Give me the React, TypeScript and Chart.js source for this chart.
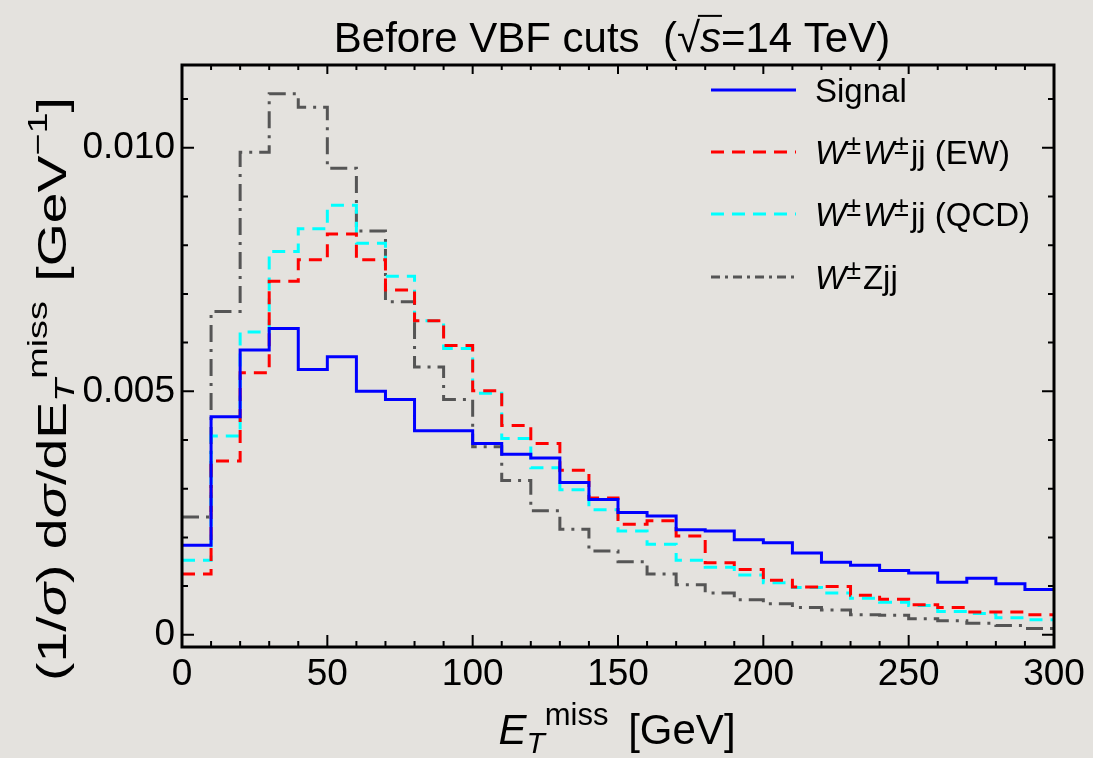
import React, { useEffect, useRef } from "react";
import { Chart, registerables } from "chart.js";

Chart.register(...registerables);

// ---- data ----
const BIN_LEFT = [0, 10, 20, 30, 40, 50, 60, 70, 80, 90, 100, 110, 120, 130, 140, 150, 160, 170, 180, 190, 200, 210, 220, 230, 240, 250, 260, 270, 280, 290];
const BIN_END = 300;

const SIGNAL = [0.00184, 0.00448, 0.00585, 0.00629, 0.00545, 0.00571, 0.005, 0.00483, 0.00419, 0.00419, 0.00393, 0.00371, 0.00363, 0.00313, 0.00278, 0.00251, 0.00244, 0.00216, 0.00213, 0.00195, 0.00189, 0.00168, 0.00149, 0.00143, 0.00132, 0.00127, 0.00108, 0.00116, 0.00105, 0.00093];
const WW_EW = [0.00125, 0.00357, 0.00538, 0.00726, 0.0077, 0.00823, 0.0077, 0.00708, 0.00645, 0.00594, 0.00501, 0.0043, 0.00393, 0.00338, 0.00281, 0.00227, 0.00234, 0.00203, 0.00148, 0.00134, 0.00112, 0.00098, 0.00099, 0.00081, 0.00073, 0.00062, 0.00056, 0.00047, 0.00047, 0.00041];
const WW_QCD = [0.00153, 0.00408, 0.00622, 0.00787, 0.00834, 0.00882, 0.00804, 0.00736, 0.00645, 0.00588, 0.00496, 0.00403, 0.00343, 0.00298, 0.00257, 0.00213, 0.00186, 0.00153, 0.00139, 0.00123, 0.00107, 0.00097, 0.00086, 0.00075, 0.00067, 0.0006, 0.00048, 0.00044, 0.00035, 0.00031];
const WZ = [0.00242, 0.00664, 0.00991, 0.01111, 0.01083, 0.00958, 0.00829, 0.00684, 0.0055, 0.00483, 0.00386, 0.00317, 0.00255, 0.00217, 0.00172, 0.0015, 0.00125, 0.00103, 0.00086, 0.00072, 0.00064, 0.00056, 0.00051, 0.00041, 0.0004, 0.00033, 0.00029, 0.00024, 0.00019, 0.00013];

const X_MAJOR = [0, 50, 100, 150, 200, 250, 300];
const X_MINOR_STEP = 10;
const Y_MAJOR = [0, 0.005, 0.01];
const Y_MAJOR_LABELS = ["0", "0.005", "0.010"];
const Y_MINOR_STEP = 0.001;

const FONT = '"Liberation Sans", Arial, Helvetica, sans-serif';

type Seg = { t: string; size: number; italic?: boolean; dy?: number; overline?: boolean; gap?: number };

function segFont(s: Seg) {
  return `${s.italic ? "italic " : ""}${s.size}px ${FONT}`;
}

function drawRich(ctx: CanvasRenderingContext2D, segs: Seg[], x: number, y: number, align: "left" | "center") {
  ctx.save();
  ctx.textBaseline = "alphabetic";
  ctx.textAlign = "left";
  const widths = segs.map((s) => {
    ctx.font = segFont(s);
    return ctx.measureText(s.t).width + (s.gap || 0);
  });
  const total = widths.reduce((a, b) => a + b, 0);
  let cx = align === "center" ? x - total / 2 : x;
  segs.forEach((s, i) => {
    ctx.font = segFont(s);
    ctx.fillStyle = "#000";
    ctx.fillText(s.t, cx, y + (s.dy || 0));
    if (s.overline) {
      ctx.strokeStyle = "#000";
      ctx.lineWidth = 2;
      ctx.beginPath();
      const oy = y + (s.dy || 0) - s.size * 0.86;
      ctx.moveTo(cx - 2, oy);
      ctx.lineTo(cx + widths[i] + 1, oy);
      ctx.stroke();
    }
    cx += widths[i];
  });
  ctx.restore();
}

function histPoints(vals: number[]) {
  const pts = BIN_LEFT.map((x, i) => ({ x, y: vals[i] }));
  pts.push({ x: BIN_END, y: vals[vals.length - 1] });
  return pts;
}

function wLabel(rest: string, double: boolean): Seg[] {
  const segs: Seg[] = [
    { t: "W", size: 33, italic: true },
    { t: "\u00B1", size: 27, dy: -10, gap: 2 },
  ];
  if (double) {
    segs.push({ t: "W", size: 33, italic: true });
    segs.push({ t: "\u00B1", size: 27, dy: -10, gap: 2 });
  }
  segs.push({ t: rest, size: 33 });
  return segs;
}

const decorations = {
  id: "decorations",
  afterDraw(chart: any) {
    const { ctx, chartArea, scales } = chart;
    const { left, right, top, bottom } = chartArea;
    const xs = scales.x;
    const ys = scales.y;
    ctx.save();
    // frame
    ctx.strokeStyle = "#000";
    ctx.lineWidth = 3;
    ctx.strokeRect(left, top, right - left, bottom - top);
    // x ticks
    ctx.lineWidth = 2;
    ctx.beginPath();
    for (let v = 0; v <= 300; v += X_MINOR_STEP) {
      const major = X_MAJOR.includes(v);
      const px = xs.getPixelForValue(v);
      const lb = major ? 12 : 6;
      const lt = major ? 9 : 5;
      ctx.moveTo(px, bottom);
      ctx.lineTo(px, bottom - lb);
      ctx.moveTo(px, top);
      ctx.lineTo(px, top + lt);
    }
    // y ticks
    for (let k = 0; k <= 11; k++) {
      const v = k * Y_MINOR_STEP;
      const major = k % 5 === 0;
      const py = ys.getPixelForValue(v);
      const l = major ? 12 : 6;
      ctx.moveTo(left, py);
      ctx.lineTo(left + l, py);
      ctx.moveTo(right, py);
      ctx.lineTo(right - l, py);
    }
    ctx.stroke();

    // title
    drawRich(
      ctx,
      [
        { t: "Before VBF cuts  (", size: 42 },
        { t: "\u221A", size: 42 },
        { t: "s", size: 42, italic: true, overline: true },
        { t: "=14 TeV)", size: 42 },
      ],
      612,
      52,
      "center"
    );

    // x title
    drawRich(
      ctx,
      [
        { t: "E", size: 42, italic: true },
        { t: "T", size: 30, italic: true, dy: 9 },
        { t: "miss", size: 31, dy: -19, gap: 8 },
        { t: " [GeV]", size: 42 },
      ],
      617,
      744,
      "center"
    );

    // y title (rotated)
    ctx.save();
    ctx.translate(66, 389);
    ctx.rotate(-Math.PI / 2);
    ctx.scale(1.35, 1);
    drawRich(
      ctx,
      [
        { t: "(1/", size: 41 },
        { t: "\u03C3", size: 41, italic: true },
        { t: ") d", size: 41 },
        { t: "\u03C3", size: 41, italic: true },
        { t: "/dE", size: 41 },
        { t: "T", size: 28, italic: true, dy: 8 },
        { t: "miss", size: 28, dy: -19, gap: 3 },
        { t: " [GeV", size: 41 },
        { t: "\u22121", size: 28, dy: -19 },
        { t: "]", size: 41 },
      ],
      0,
      0,
      "center"
    );
    ctx.restore();

    // legend
    const items = [
      { color: "#0000ff", dash: [] as number[], label: [{ t: "Signal", size: 33 }] as Seg[] },
      { color: "#ff0000", dash: [13, 8], label: wLabel("jj (EW)", true) },
      { color: "#00ffff", dash: [13, 8], label: wLabel("jj (QCD)", true) },
      { color: "#555555", dash: [9, 5, 3, 5], label: wLabel("Zjj", false) },
    ];
    const ly = [90, 152, 214, 277];
    items.forEach((it, i) => {
      ctx.save();
      ctx.strokeStyle = it.color;
      ctx.lineWidth = 3;
      ctx.setLineDash(it.dash);
      ctx.beginPath();
      ctx.moveTo(711, ly[i]);
      ctx.lineTo(796, ly[i]);
      ctx.stroke();
      ctx.restore();
      drawRich(ctx, it.label, 815, ly[i] + 12, "left");
    });
    ctx.restore();
  },
};

export default function App() {
  const ref = useRef<HTMLCanvasElement | null>(null);
  useEffect(() => {
    document.body.style.margin = "0";
    document.body.style.background = "#e4e2de";
    if (!ref.current) return;
    const mk = (label: string, vals: number[], color: string, dash: number[]) => ({
      label,
      data: histPoints(vals),
      borderColor: color,
      backgroundColor: color,
      borderWidth: 3,
      borderDash: dash,
      stepped: "before" as const,
      pointRadius: 0,
      fill: false,
      tension: 0,
    });
    const chart = new Chart(ref.current, {
      type: "line",
      data: {
        datasets: [
          mk("Signal", SIGNAL, "#0000ff", []),
          mk("W±W±jj (EW)", WW_EW, "#ff0000", [13, 8]),
          mk("W±W±jj (QCD)", WW_QCD, "#00ffff", [13, 8]),
          mk("W±Zjj", WZ, "#555555", [17, 7, 3, 7]),
        ],
      },
      options: {
        animation: false,
        responsive: true,
        maintainAspectRatio: false,
        layout: { padding: { top: 65, right: 39, left: 0, bottom: 0 } },
        plugins: { legend: { display: false }, title: { display: false }, tooltip: { enabled: false } },
        scales: {
          x: {
            type: "linear",
            min: 0,
            max: 300,
            grid: { display: false, drawTicks: false },
            border: { display: false },
            afterBuildTicks: (s: any) => {
              s.ticks = X_MAJOR.map((v) => ({ value: v }));
            },
            afterFit: (s: any) => {
              s.height = 111;
            },
            ticks: {
              color: "#000",
              font: { family: FONT, size: 37 },
              padding: 6,
              maxRotation: 0,
              autoSkip: false,
              callback: (v: any) => String(v),
            },
          },
          y: {
            type: "linear",
            min: -0.00025,
            max: 0.0117,
            grid: { display: false, drawTicks: false },
            border: { display: false },
            afterBuildTicks: (s: any) => {
              s.ticks = Y_MAJOR.map((v) => ({ value: v }));
            },
            afterFit: (s: any) => {
              s.width = 182;
            },
            ticks: {
              color: "#000",
              font: { family: FONT, size: 37 },
              padding: 7,
              autoSkip: false,
              callback: (v: any) => {
                const i = Y_MAJOR.findIndex((m) => Math.abs(m - v) < 1e-9);
                return i >= 0 ? Y_MAJOR_LABELS[i] : "";
              },
            },
          },
        },
      },
      plugins: [decorations],
    });
    return () => chart.destroy();
  }, []);
  return (
    <div style={{ position: "fixed", left: 0, top: 0, width: 1093, height: 758, background: "#e4e2de" }}>
      <canvas ref={ref} />
    </div>
  );
}
